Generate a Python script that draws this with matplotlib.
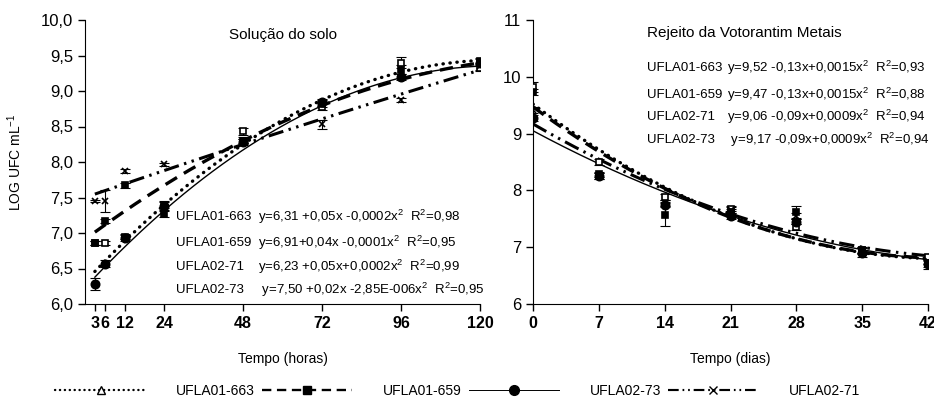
import numpy as np
import matplotlib.pyplot as plt
from matplotlib.lines import Line2D

plt.rcParams['font.family'] = ['Liberation Sans', 'DejaVu Sans']
plt.rcParams['mathtext.fontset'] = 'custom'
plt.rcParams['mathtext.rm'] = 'Liberation Sans'

# ---- dados: solucao do solo (horas)
horas = [3, 6, 12, 24, 48, 72, 96, 120]
solo_663 = [6.86, 6.86, 6.95, 7.40, 8.43, 8.78, 9.40, 9.33]
solo_659 = [6.86, 7.17, 7.67, 7.27, 8.30, 8.82, 9.30, 9.42]
solo_73 = [6.28, 6.57, 6.93, 7.38, 8.28, 8.85, 9.20, 9.40]
solo_71 = [7.45, 7.45, 7.87, 7.97, 8.30, 8.53, 8.87, 9.35]
solo_err_663 = [0.03, 0.03, 0.03, 0.05, 0.05, 0.05, 0.08, 0.05]
solo_err_659 = [0.03, 0.03, 0.03, 0.04, 0.05, 0.05, 0.06, 0.05]
solo_err_73 = [0.08, 0.05, 0.04, 0.05, 0.04, 0.04, 0.04, 0.05]
solo_err_71 = [0.02, 0.15, 0.03, 0.02, 0.03, 0.06, 0.03, 0.05]
# tendencias (a, b, c) -> a + b*x + c*x^2
solo_tend_663 = [6.31, 0.05, -0.0002]
solo_tend_659 = [6.91, 0.0344, -0.000114]
solo_tend_73 = [6.23, 0.05, -0.0002]
solo_tend_71 = [7.50, 0.016, -0.0000087]

# ---- dados: rejeito (dias)
dias = [0, 7, 14, 21, 28, 35, 42]
rej_663 = [9.82, 8.50, 7.88, 7.68, 7.35, 6.95, 6.82]
rej_659 = [9.73, 8.28, 7.57, 7.62, 7.62, 6.95, 6.70]
rej_73 = [9.28, 8.25, 7.75, 7.55, 7.45, 6.90, 6.70]
rej_71 = [9.42, 8.25, 7.78, 7.65, 7.55, 6.93, 6.75]
rej_err_663 = [0.08, 0.05, 0.05, 0.05, 0.05, 0.05, 0.05]
rej_err_659 = [0.05, 0.05, 0.20, 0.05, 0.10, 0.05, 0.08]
rej_err_73 = [0.05, 0.05, 0.05, 0.05, 0.05, 0.08, 0.05]
rej_err_71 = [0.05, 0.05, 0.05, 0.05, 0.05, 0.05, 0.05]
rej_tend_663 = [9.52, -0.1244, 0.00142]
rej_tend_659 = [9.47, -0.122, 0.0014]
rej_tend_73 = [9.05, -0.0888, 0.000828]
rej_tend_71 = [9.17, -0.0956, 0.000961]

nomes = ['UFLA01-663', 'UFLA01-659', 'UFLA02-73', 'UFLA02-71']
solo_nomes_eq = ['UFLA01-663', 'UFLA01-659', 'UFLA02-71', 'UFLA02-73']
solo_eq = ['y=6,31 +0,05x -0,0002x$^2$  R$^2$=0,98',
           'y=6,91+0,04x -0,0001x$^2$  R$^2$=0,95',
           'y=6,23 +0,05x+0,0002x$^2$  R$^2$=0,99',
           ' y=7,50 +0,02x -2,85E-006x$^2$  R$^2$=0,95']
rej_nomes_eq = ['UFLA01-663', 'UFLA01-659', 'UFLA02-71', 'UFLA02-73']
rej_eq = ['y=9,52 -0,13x+0,0015x$^2$  R$^2$=0,93',
          'y=9,47 -0,13x+0,0015x$^2$  R$^2$=0,88',
          'y=9,06 -0,09x+0,0009x$^2$  R$^2$=0,94',
          ' y=9,17 -0,09x+0,0009x$^2$  R$^2$=0,94']

estilos = [
    dict(ls=(0, (0.1, 2.0)), lw=2.4, marker='s', mfc='white', ms=5, dash_capstyle='round'),
    dict(ls=(0, (4, 2.4)), lw=2.4, marker='s', mfc='black', ms=5),
    dict(ls='-', lw=1.0, marker='o', mfc='black', ms=6),
    dict(ls=(0, (5, 1.8, 0.8, 1.8, 0.8, 1.8)), lw=2.2, marker='x', mfc='black', ms=5),
]


def painel(ax, x, dados, erros, tends, xfit):
    for y, e, t, st in zip(dados, erros, tends, estilos):
        ax.errorbar(x, y, yerr=e, fmt='none', ecolor='black', elinewidth=0.8,
                    capsize=3.5, capthick=0.8, zorder=3)
        ax.plot(x, y, ls='none', marker=st['marker'], mfc=st['mfc'], mec='black',
                ms=st['ms'], mew=1.2, zorder=4)
        yfit = t[0] + t[1] * xfit + t[2] * xfit ** 2
        ax.plot(xfit, yfit, color='black', ls=st['ls'], lw=st['lw'],
                dash_capstyle=st.get('dash_capstyle', 'butt'), zorder=2)
    for s in ['top', 'right']:
        ax.spines[s].set_visible(False)
    ax.tick_params(direction='out', length=5, width=1)
    for lab in ax.get_xticklabels():
        lab.set_fontweight('bold')


fig = plt.figure(figsize=(9.34, 3.98), dpi=100)
ax1 = fig.add_axes([85 / 934, 94 / 398, 395 / 934, 284 / 398])
ax2 = fig.add_axes([533 / 934, 94 / 398, 395 / 934, 284 / 398])

ax1.set_xlim(0, 120)
ax1.set_ylim(6, 10)
ax1.set_xticks(horas)
ax1.set_xticklabels([str(h) for h in horas], fontsize=11.5)
yt = np.arange(6, 10.01, 0.5)
ax1.set_yticks(yt)
ax1.set_yticklabels([('%.1f' % v).replace('.', ',') for v in yt], fontsize=12)
painel(ax1, horas, [solo_663, solo_659, solo_73, solo_71],
       [solo_err_663, solo_err_659, solo_err_73, solo_err_71],
       [solo_tend_663, solo_tend_659, solo_tend_73, solo_tend_71],
       np.linspace(3, 120, 200))
ax1.set_xlabel('Tempo (horas)', fontsize=10, labelpad=15)
ax1.set_ylabel('LOG UFC mL$^{-1}$', fontsize=10, labelpad=12)
ax1.text(0.501, 0.947, 'Solução do solo', transform=ax1.transAxes,
         ha='center', va='center', fontsize=11)
for i, (n, eq) in enumerate(zip(solo_nomes_eq, solo_eq)):
    yy = [0.307, 0.215, 0.130, 0.049][i]
    ax1.text(0.23, yy, n, transform=ax1.transAxes, va='center', fontsize=9.5)
    ax1.text(0.438, yy, eq, transform=ax1.transAxes, va='center', fontsize=9.5)

ax2.set_xlim(0, 42)
ax2.set_ylim(6, 11)
ax2.set_xticks(dias)
ax2.set_xticklabels([str(d) for d in dias], fontsize=11.5)
ax2.set_yticks(range(6, 12))
ax2.set_yticklabels([str(v) for v in range(6, 12)], fontsize=12)
painel(ax2, dias, [rej_663, rej_659, rej_73, rej_71],
       [rej_err_663, rej_err_659, rej_err_73, rej_err_71],
       [rej_tend_663, rej_tend_659, rej_tend_73, rej_tend_71],
       np.linspace(0, 42, 200))
ax2.set_xlabel('Tempo (dias)', fontsize=10, labelpad=15)
ax2.text(0.534, 0.954, 'Rejeito da Votorantim Metais', transform=ax2.transAxes,
         ha='center', va='center', fontsize=11)
for i, (n, eq) in enumerate(zip(rej_nomes_eq, rej_eq)):
    yy = [0.831, 0.736, 0.658, 0.577][i]
    ax2.text(0.289, yy, n, transform=ax2.transAxes, va='center', fontsize=9.5)
    ax2.text(0.491, yy, eq, transform=ax2.transAxes, va='center', fontsize=9.5)

# legenda
marc_leg = ['^', 's', 'o', 'x']
handles = []
for st, m in zip(estilos, marc_leg):
    mfc = 'white' if m == '^' else 'black'
    handles.append(Line2D([], [], color='black', ls=st['ls'], lw=st['lw'] * 0.7,
                          marker=m, mfc=mfc, mec='black', ms=st['ms'] + 1,
                          dash_capstyle=st.get('dash_capstyle', 'butt')))
fig.legend(handles, nomes, loc='center', bbox_to_anchor=(0.49, 0.018), ncol=4,
           frameon=False, fontsize=10, handlelength=6.5, handletextpad=2.2,
           columnspacing=0.5, numpoints=1)

fig.savefig('out.png', dpi=100)
